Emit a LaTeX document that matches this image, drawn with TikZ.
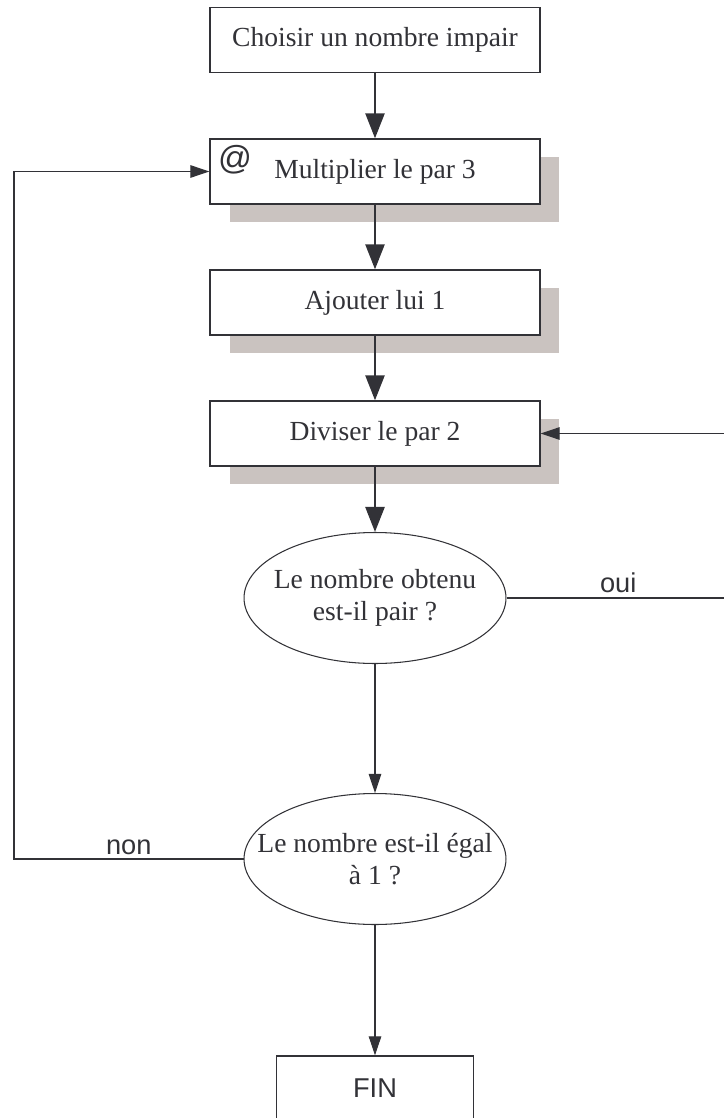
\documentclass[tikz,border=0pt]{standalone}
\usepackage{fontspec}
\setmainfont{Liberation Serif}
\setsansfont{Liberation Sans}
\usetikzlibrary{arrows.meta,shapes.geometric,shadows}
\definecolor{traitgris}{RGB}{50,50,55}
\definecolor{ombre}{RGB}{202,195,192}

\begin{document}
\begin{tikzpicture}[x=0.02cm, y=-0.02cm, font=\fontsize{15.7}{18.5}\selectfont, text=traitgris,
	etape/.style={draw=traitgris, line width=0.75pt, fill=white, minimum width=6.6cm, minimum height=1.3cm, inner sep=0pt},
	ombree/.style={etape, drop shadow={shadow xshift=0.39cm, shadow yshift=-0.36cm, fill=ombre, opacity=1}},
	test/.style={draw=traitgris, line width=0.6pt, ellipse, minimum width=5.24cm, minimum height=2.62cm, inner sep=0pt},
	etiq/.style={font=\sffamily\fontsize{15.5}{18.5}\selectfont},
	gros/.style={draw=traitgris, line width=1.4pt, -{Triangle[length=0.5cm, width=0.38cm]}},
	mince/.style={draw=traitgris, line width=0.6pt, -{Triangle[length=0.38cm, width=0.25cm]}}]
			 \useasboundingbox (0,0) rectangle (723,1118);
			 \node[etape] (choix)at(375,40) {Choisir un nombre impair};
			 \node[ombree] (mult)at(375,171.5) {Multiplier le par 3};
			 \node[ombree] (ajout)at(375,302.5) {Ajouter lui 1};
			 \node[ombree] (divi)at(375,433.5) {Diviser le par 2};
			 \node[test, label={[align=center]center:Le nombre obtenu\\est-il pair ?}] (pair)at(375,598) {};
			 \node[test, label={[align=center]center:Le nombre est-il égal\\à 1 ?}] (egal)at(375,859) {};
			 \node[etape, etiq, minimum width=3.94cm] (fin)at(375,1088.5) {FIN};
			 \node[etiq, font=\sffamily\fontsize{19}{20}\selectfont, inner sep=0pt] (arob)at(235,160) {@};
			 \coordinate (droite) at (730,598);
			 \coordinate (gauche) at (14,859);
			 \draw[gros] (choix) -- (mult);
			 \draw[gros] (mult) -- (ajout);
			 \draw[gros] (ajout) -- (divi);
			 \draw[gros] (divi) -- (pair);
			 \draw[mince] (pair) -- (egal);
			 \draw[mince] (egal) -- (fin);
			 \draw[mince] (pair.east) -- node[etiq, above, inner sep=2.5pt] (oui) {oui} (droite) |- (divi.east);
			 \draw[mince] (egal.west) -- node[etiq, above, inner sep=2pt] (non) {non} (gauche) |- (mult.west);
		\end{tikzpicture}
\end{document}
